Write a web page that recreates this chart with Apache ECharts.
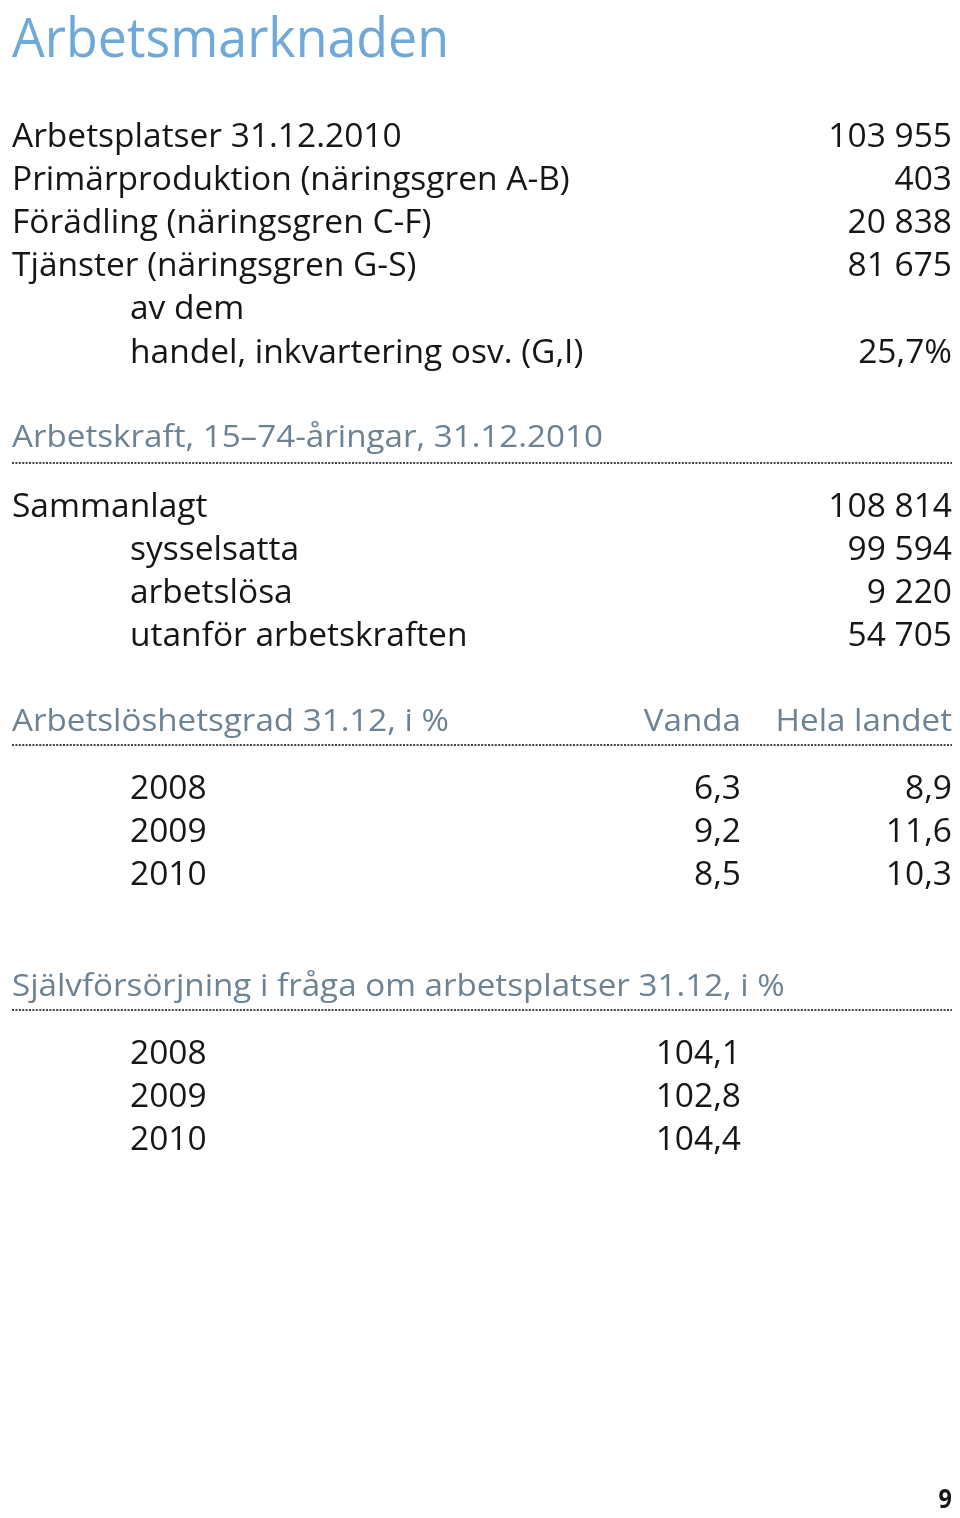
<!DOCTYPE html>
<html><head><meta charset="utf-8">
<script src="https://cdn.jsdelivr.net/npm/echarts@6/dist/echarts.min.js"></script>
<style>html,body{margin:0;padding:0;background:#fff}#c{width:960px;height:1518px}</style>
</head><body><div id="c"></div>
<script>
const pageTitle = 'Arbetsmarknaden';
const workplaceLabels = ['Arbetsplatser 31.12.2010','Primärproduktion (näringsgren A-B)','Förädling (näringsgren C-F)','Tjänster (näringsgren G-S)','av dem','handel, inkvartering osv. (G,I)'];
const workplaceValues = ['103 955','403','20 838','81 675','','25,7%'];
const workplaceIndent = [0,0,0,0,1,1];

const labourTitle = 'Arbetskraft, 15–74-åringar, 31.12.2010';
const labourLabels = ['Sammanlagt','sysselsatta','arbetslösa','utanför arbetskraften'];
const labourValues = ['108 814','99 594','9 220','54 705'];
const labourIndent = [0,1,1,1];

const unempTitle = 'Arbetslöshetsgrad 31.12, i %';
const unempColumns = ['Vanda','Hela landet'];
const unempYears = ['2008','2009','2010'];
const unempVanda = ['6,3','9,2','8,5'];
const unempCountry = ['8,9','11,6','10,3'];

const selfTitle = 'Självförsörjning i fråga om arbetsplatser 31.12, i %';
const selfYears = ['2008','2009','2010'];
const selfValues = ['104,1','102,8','104,4'];

const pageNumber = '9';

const L = 12, IND = 130, R = 952, MID = 741, ROW = 43.2;
const BODY = '33.5px "Open Sans"', BODYSX = 1.0;
const HEAD = '31px "Open Sans"', HEADSX = 1.07;
const BLACK = '#161616', HEADC = '#6d8393';

const els = [];
function txt(x, y, text, font, fill, align, sx) {
  els.push({type:'text', x:x, y:y, scaleX:sx, silent:true,
    style:{text:text, x:0, y:0, font:font, fill:fill, textAlign:align, textVerticalAlign:'middle'}});
}
function dots(y) {
  els.push({type:'line', silent:true, shape:{x1:L, y1:y, x2:R, y2:y},
    style:{stroke:'#444', lineWidth:2, lineDash:[2,1.4], lineCap:'butt'}});
}

txt(L, 41, pageTitle, '55px "Open Sans"', '#6ea9d9', 'left', 0.944);

workplaceLabels.forEach((lab, i) => {
  const y = 137 + i*ROW;
  txt(workplaceIndent[i] ? IND : L, y, lab, BODY, BLACK, 'left', BODYSX);
  if (workplaceValues[i]) txt(R, y, workplaceValues[i], BODY, BLACK, 'right', BODYSX);
});

txt(L, 438, labourTitle, HEAD, HEADC, 'left', HEADSX);
dots(463);
labourLabels.forEach((lab, i) => {
  const y = 507 + i*ROW;
  txt(labourIndent[i] ? IND : L, y, lab, BODY, BLACK, 'left', BODYSX);
  txt(R, y, labourValues[i], BODY, BLACK, 'right', BODYSX);
});

txt(L, 722, unempTitle, HEAD, HEADC, 'left', HEADSX);
txt(MID, 722, unempColumns[0], HEAD, HEADC, 'right', HEADSX);
txt(R, 722, unempColumns[1], HEAD, HEADC, 'right', HEADSX);
dots(745);
unempYears.forEach((yr, i) => {
  const y = 789 + i*ROW;
  txt(IND, y, yr, BODY, BLACK, 'left', BODYSX);
  txt(MID, y, unempVanda[i], BODY, BLACK, 'right', BODYSX);
  txt(R, y, unempCountry[i], BODY, BLACK, 'right', BODYSX);
});

txt(L, 987, selfTitle, HEAD, HEADC, 'left', HEADSX);
dots(1010);
selfYears.forEach((yr, i) => {
  const y = 1054 + i*ROW;
  txt(IND, y, yr, BODY, BLACK, 'left', BODYSX);
  txt(MID, y, selfValues[i], BODY, BLACK, 'right', BODYSX);
});

txt(R, 1501, pageNumber, 'bold 26px "Open Sans"', BLACK, 'right', 0.9);

const chart = echarts.init(document.getElementById('c'), null, {renderer:'canvas'});
chart.setOption({backgroundColor:'#fff', animation:false, graphic:{elements:els}});
</script></body></html>
